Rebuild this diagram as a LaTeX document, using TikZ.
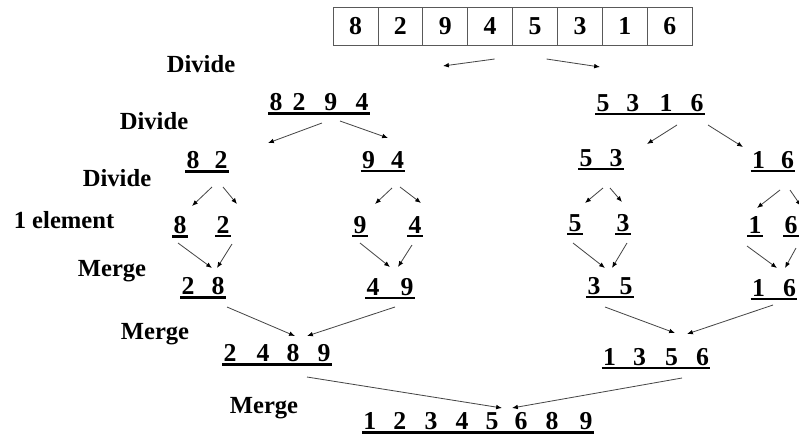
\documentclass[tikz,border=0pt]{standalone}
\usepackage{fontspec}
\setmainfont{Liberation Serif}
\usetikzlibrary{arrows.meta,calc}

\tikzset{
  num/.style={font=\bfseries\fontsize{22}{26}\selectfont, inner xsep=1pt, inner ysep=0pt},
  lbl/.style={font=\bfseries\fontsize{21}{25}\selectfont, inner sep=0pt},
  cell/.style={draw=gray!70!black, line width=0.6pt, minimum width=1.347cm,
    minimum height=1.14cm, inner sep=0pt, font=\bfseries\fontsize{22}{26}\selectfont},
  arr/.style={-{Latex[length=5pt,width=4pt,color=black]}, gray!55!black, line width=0.7pt},
  uline/.style={line width=2.1pt}
}

\begin{document}
\begin{tikzpicture}[x=0.03cm, y=-0.03cm]
\useasboundingbox (0,0) rectangle (799,437);

% the array
\foreach \d [count=\i] in {8,2,9,4,5,3,1,6}
  \node[cell] (c\i) at ({333+44.9*(\i-0.5)},26) {\d};

% row labels
\node[lbl] (div1) at (201,64) {Divide};
\node[lbl] (div2) at (154,121) {Divide};
\node[lbl] (div3) at (117,178) {Divide};
\node[lbl] (one) at (64,220) {1 element};
\node[lbl] (mrg1) at (112,271) {Merge};
\node[lbl] (mrg2) at (155,334) {Merge};
\node[lbl] (mrg3) at (264,408) {Merge};

% groups
\node[num] (g8294) at (319,102) {8\hspace{8.6pt}2\hspace{16.3pt}9\hspace{15.5pt}4};
\node[num] (g5316) at (650,103) {5\hspace{14.6pt}3\hspace{17.2pt}1\hspace{15.5pt}6};
\node[num] (g82) at (207,160) {8\hspace{12.9pt}2};
\node[num] (g94) at (383,160) {9\hspace{13.8pt}4};
\node[num] (g53) at (601,158) {5\hspace{14.6pt}3};
\node[num] (g16a) at (773,160) {1\hspace{13.8pt}6};
\node[num] (g28) at (203,286) {2\hspace{14.6pt}8};
\node[num] (g49) at (390,287) {4\hspace{18pt}9};
\node[num] (g35) at (610,286) {3\hspace{16.3pt}5};
\node[num] (g16b) at (774,288) {1\hspace{15.5pt}6};
\node[num] (g2489) at (277,353) {2\hspace{17.2pt}4\hspace{14.6pt}8\hspace{15.5pt}9};
\node[num] (g1356) at (656,357) {1\hspace{14.6pt}3\hspace{16.3pt}5\hspace{15.5pt}6};
\node[num] (gfin) at (478,421) {1\hspace{14.6pt}2\hspace{15.5pt}3\hspace{15.5pt}4\hspace{14.6pt}5\hspace{13.8pt}6\hspace{15.5pt}8\hspace{18pt}9};

% single elements
\foreach \n/\x/\y/\d in {s8/180/225/8, s2/223/225/2, s9/360/225/9, s4/415/225/4,
    s5/575/223/5, s3/623/223/3, s1/755/225/1, s6/791/225/6}
  \node[num] (\n) at (\x,\y) {\d};

% underlines
\foreach \n in {g8294,g5316,g82,g94,g53,g16a,g28,g49,g35,g16b,g2489,g1356,gfin,
    s8,s2,s9,s4,s5,s3,s1,s6}
  \draw[uline] ([yshift=-2pt]\n.south west) -- ([yshift=-2pt]\n.south east);

% divide
\draw[arr] ($(c4)+(4.5,33)$) -- ($(g8294)+(124,-36)$);
\draw[arr] ($(c5)+(11.5,33)$) -- ($(g5316)+(-50,-36)$);
\draw[arr] ($(g8294)+(3,21)$) -- ($(g82)+(61,-17)$);
\draw[arr] ($(g8294)+(21,19)$) -- ($(g94)+(5,-22)$);
\draw[arr] ($(g5316)+(27,22)$) -- ($(g53)+(46,-14)$);
\draw[arr] ($(g5316)+(58,22)$) -- ($(g16a)+(-30,-13)$);
\draw[arr] ($(g82)+(5,27)$) -- ($(s8)+(12,-19)$);
\draw[arr] ($(g82)+(16,27)$) -- ($(s2)+(14,-21)$);
\draw[arr] ($(g94)+(9,28)$) -- ($(s9)+(15,-21)$);
\draw[arr] ($(g94)+(17,27)$) -- ($(s4)+(6,-22)$);
\draw[arr] ($(g53)+(2,30)$) -- ($(s5)+(10,-20)$);
\draw[arr] ($(g53)+(9,30)$) -- ($(s3)+(-1,-21)$);
\draw[arr] ($(g16a)+(7,30)$) -- ($(s1)+(2,-17)$);
\draw[arr] ($(g16a)+(17,30)$) -- ($(s6)+(10,-19)$);

% merge
\draw[arr] ($(s8)+(-2,18)$) -- ($(g28)+(9,-18)$);
\draw[arr] ($(s2)+(9,19)$) -- ($(g28)+(14,-18)$);
\draw[arr] ($(s9)+(0,18)$) -- ($(g49)+(0,-20)$);
\draw[arr] ($(s4)+(-3,20)$) -- ($(g49)+(8,-20)$);
\draw[arr] ($(s5)+(-2,20)$) -- ($(g35)+(-5,-18)$);
\draw[arr] ($(s3)+(4,20)$) -- ($(g35)+(2,-18)$);
\draw[arr] ($(s1)+(-8,21)$) -- ($(g16b)+(3,-20)$);
\draw[arr] ($(s6)+(5,23)$) -- ($(g16b)+(11,-20)$);
\draw[arr] ($(g28)+(24,21)$) -- ($(g2489)+(18,-17)$);
\draw[arr] ($(g49)+(5,20)$) -- ($(g2489)+(30,-17)$);
\draw[arr] ($(g35)+(-5,21)$) -- ($(g1356)+(19,-24)$);
\draw[arr] ($(g16b)+(-1,17)$) -- ($(g1356)+(31,-23)$);
\draw[arr] ($(g2489)+(30,24)$) -- ($(gfin)+(24,-13)$);
\draw[arr] ($(g1356)+(26,21)$) -- ($(gfin)+(34,-13)$);
\end{tikzpicture}
\end{document}
